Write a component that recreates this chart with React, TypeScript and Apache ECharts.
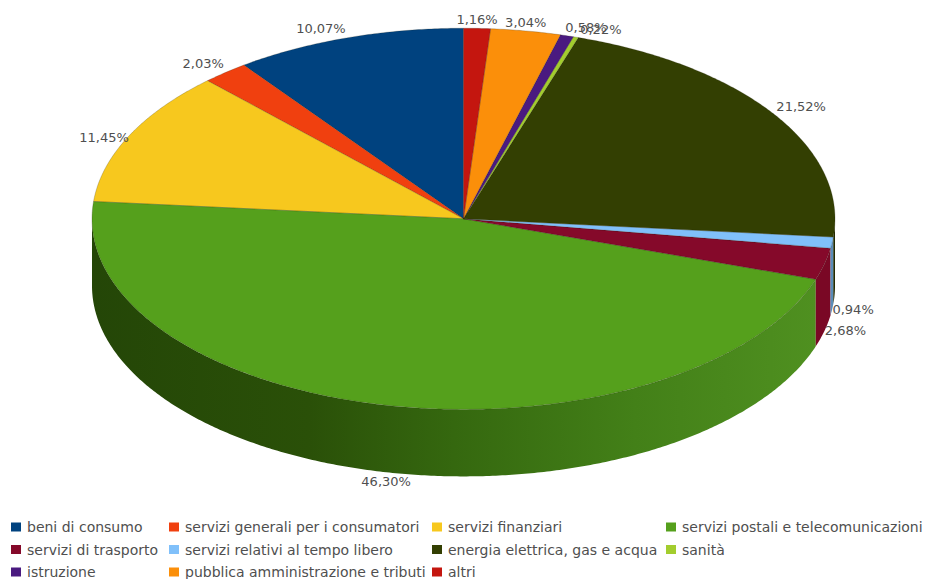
import React, { useEffect, useRef } from "react";
import * as echarts from "echarts";

// Sector shares in percent, in drawing order (anticlockwise from twelve o'clock).
const categories = [
  "beni di consumo",
  "servizi generali per i consumatori",
  "servizi finanziari",
  "servizi postali e telecomunicazioni",
  "servizi di trasporto",
  "servizi relativi al tempo libero",
  "energia elettrica, gas e acqua",
  "sanità",
  "istruzione",
  "pubblica amministrazione e tributi",
  "altri",
];
const shares = [10.07, 2.03, 11.45, 46.3, 2.68, 0.94, 21.52, 0.22, 0.58, 3.04, 1.16];

const topColors = [
  "#00427f", "#f0400f", "#f7c81e", "#55a01c", "#85092a", "#80c0fa",
  "#333f02", "#a3cd2e", "#4a1a80", "#fb8f0a", "#c4160f",
];
const wallColors = [
  "#002a52", "#a02a08", "#a88814", "#3a7012", "#7a0825", "#5a8cb8",
  "#222a01", "#6f8c1f", "#321158", "#aa6106", "#85100a",
];

// Label displacement from the rim point at each slice's mid angle.
const labelOffsets = [
  [-27, -9], [-22, -9], [-25, 2], [-1, 76], [21, 67], [21, 67],
  [27, -8], [25, -8], [19, -8], [0, -8], [0, -9],
];

const legendColumns = [
  [0, 4, 8],
  [1, 5, 9],
  [2, 6, 10],
  [3, 7],
];
const legendLeft = [11, 169, 432, 666];

const CX = 463.5;
const CY = 218.8;
const RX = 371.5;
const RY = 190.6;
const DEPTH = 67;
const FONT = '"DejaVu Sans", sans-serif';

const total = shares.reduce((a, b) => a + b, 0);
const rimPoint = (deg: number, dy = 0): [number, number] => {
  const r = (deg * Math.PI) / 180;
  return [CX - RX * Math.sin(r), CY - RY * Math.cos(r) + dy];
};
const arcPoints = (from: number, to: number, dy = 0) => {
  const pts: [number, number][] = [];
  const n = Math.max(1, Math.ceil((to - from) / 0.5));
  for (let i = 0; i <= n; i++) pts.push(rimPoint(from + ((to - from) * i) / n, dy));
  return pts;
};

const formatShare = (v: number) => v.toFixed(2).replace(".", ",") + "%";

function renderSlice(index: number) {
  return (_params: any, api: any) => {
    const value = api.value(0);
    const start = (api.value(1) / total) * 360;
    const end = start + (value / total) * 360;
    const mid = (start + end) / 2;
    const children: any[] = [];

    // The visible side wall is the part of the rim on the near half of the disc.
    const wallFrom = Math.max(start, 90);
    const wallTo = Math.min(end, 270);
    if (wallTo > wallFrom) {
      const fill =
        index === 3
          ? new echarts.graphic.LinearGradient(0, 0, 1, 0, [
              { offset: 0, color: "#244607" },
              { offset: 0.3, color: "#2a5008" },
              { offset: 0.5, color: "#35680f" },
              { offset: 0.75, color: "#438018" },
              { offset: 1, color: "#4f9020" },
            ])
          : wallColors[index];
      children.push({
        type: "polygon",
        z2: 1,
        shape: {
          points: [...arcPoints(wallFrom, wallTo), ...arcPoints(wallFrom, wallTo, DEPTH).reverse()],
        },
        style: { fill },
      });
    }

    children.push({
      type: "polygon",
      z2: 5,
      shape: { points: [[CX, CY], ...arcPoints(start, end)] },
      style: { fill: topColors[index], stroke: "rgba(30,30,10,0.35)", lineWidth: 0.6 },
    });

    const [ax, ay] = rimPoint(mid);
    children.push({
      type: "text",
      z2: 10,
      x: ax + labelOffsets[index][0],
      y: ay + labelOffsets[index][1],
      style: {
        text: formatShare(value),
        align: "center",
        verticalAlign: "middle",
        fill: "#4f4f4f",
        font: `13px ${FONT}`,
      },
    });

    return { type: "group", children };
  };
}

export default function App() {
  const ref = useRef<HTMLDivElement>(null);

  useEffect(() => {
    const chart = echarts.init(ref.current!, null, { renderer: "svg" });
    let running = 0;
    const series = categories.map((name, i) => {
      const start = running;
      running += shares[i];
      return {
        type: "custom" as const,
        name,
        coordinateSystem: "none",
        itemStyle: { color: topColors[i] },
        renderItem: renderSlice(i),
        data: [[shares[i], start]],
        silent: true,
      };
    });

    chart.setOption({
      animation: false,
      backgroundColor: "#ffffff",
      legend: legendColumns.map((col, i) => ({
        orient: "vertical",
        left: legendLeft[i],
        top: 520,
        padding: 0,
        itemWidth: 10,
        itemHeight: 9,
        itemGap: 8.5,
        icon: "rect",
        selectedMode: false,
        data: col.map((c) => categories[c]),
        textStyle: { color: "#4f4f4f", fontFamily: FONT, fontSize: 14, padding: [0, 0, 0, 1] },
      })),
      series,
    });

    return () => chart.dispose();
  }, []);

  return (
    <div
      ref={ref}
      style={{ position: "absolute", left: 0, top: 0, width: 925, height: 579 }}
    />
  );
}
